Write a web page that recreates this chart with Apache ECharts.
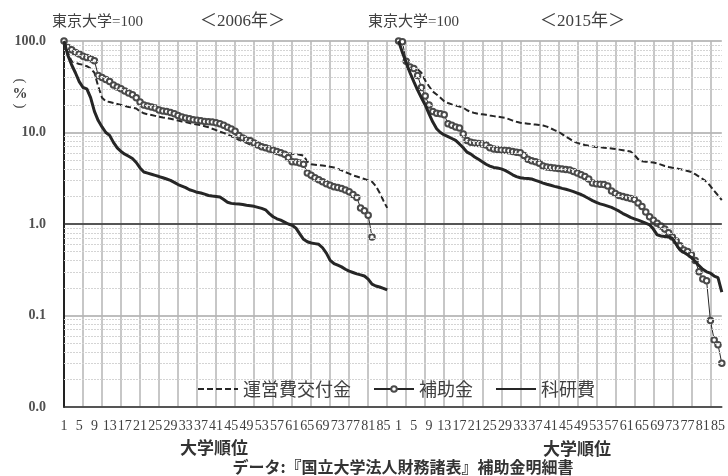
<!DOCTYPE html>
<html><head><meta charset="utf-8">
<script src="https://cdn.jsdelivr.net/npm/echarts@6/dist/echarts.min.js"></script>
<style>html,body{margin:0;padding:0;background:#fff}#c{width:728px;height:476px}</style>
</head><body><div id="c"></div>
<script>
// ---- categories (university rank), two panels on one category axis ----
const ranks2006 = Array.from({length: 88}, (_, i) => String(i + 1));
const ranks2015 = Array.from({length: 86}, (_, i) => String(i + 1));
const categories = ranks2006.concat(ranks2015);

// ---- values (東京大学 = 100) ----
const kofu2006 = [100,75,60,58,56,55,53,50,45,32,24,22,21.5,21,20.5,20,19.5,19,18.7,18.3,17,16.2,15.8,15.5,15.2,14.9,14.6,14.4,14.1,13.8,13.5,13.2,13.0,12.7,12.4,12.2,12.0,11.7,11.4,11.0,10.6,10.2,9.9,9.5,9.1,8.7,8.3,8.0,7.7,7.4,7.2,7.0,6.85,6.7,6.5,6.35,6.2,6.1,6.0,5.95,5.85,5.8,5.72,5.6,4.8,4.5,4.45,4.4,4.35,4.3,4.22,4.15,4.0,3.85,3.7,3.55,3.4,3.3,3.2,3.1,3.0,2.9,2.6,2.2,1.8,1.5];
const hojo2006 = [100,85,80,75,72,68,66,64,61,42,40,38,36,33,31.5,30,28.5,27,25.8,24,21.5,20,19.5,19,18.5,17.6,17.2,17,16.5,16,15.3,14.8,14.4,14.1,13.8,13.6,13.4,13.2,13.1,13.0,12.8,12.5,12.0,11.4,10.9,10.3,9.3,8.7,8.4,8.1,7.7,7.3,7.0,6.8,6.6,6.4,6.2,6.0,5.8,5.3,4.8,4.75,4.65,4.5,3.6,3.4,3.2,3.05,2.9,2.75,2.65,2.55,2.5,2.45,2.35,2.25,2.1,1.95,1.5,1.4,1.25,0.72];
const kaken2006 = [100,70,55,45,36,31,30,24,17,13.5,11.5,10,9.3,7.8,6.8,6.2,5.8,5.5,5.2,4.7,4.1,3.7,3.6,3.5,3.4,3.3,3.2,3.1,3.0,2.85,2.7,2.6,2.5,2.37,2.3,2.22,2.18,2.12,2.05,2.02,2.0,1.97,1.85,1.73,1.68,1.66,1.65,1.63,1.6,1.58,1.56,1.52,1.48,1.43,1.3,1.2,1.14,1.1,1.05,1.0,0.97,0.9,0.78,0.68,0.64,0.62,0.61,0.6,0.55,0.48,0.4,0.37,0.355,0.34,0.32,0.305,0.295,0.285,0.278,0.27,0.25,0.22,0.21,0.205,0.198,0.19];

const kofu2015 = [100,75,60,55,52,49,45,37,32,28,26,24,22,21,20.3,19.7,19.2,18.7,17.5,16.8,16.3,16.0,15.8,15.6,15.3,15.1,14.9,14.7,14.5,14.0,13.5,13.1,12.8,12.6,12.5,12.3,12.2,12.1,11.9,11.6,11.1,10.6,10.2,9.6,9.0,8.5,8.0,7.7,7.5,7.3,7.15,7.05,6.95,6.9,6.8,6.75,6.7,6.6,6.5,6.4,6.3,6.2,5.7,5.1,4.85,4.8,4.75,4.7,4.6,4.45,4.3,4.2,4.12,4.06,3.98,3.9,3.8,3.7,3.5,3.3,3.1,2.9,2.6,2.3,2.05,1.83];
const hojo2015 = [100,98,60,52,50,42,31,25,20,17,16.2,16,15.6,12.5,12,11.5,11.2,9.6,8.2,7.8,7.7,7.6,7.5,7.3,6.8,6.6,6.5,6.45,6.4,6.3,6.2,6.1,6.0,5.6,5.1,4.9,4.8,4.6,4.3,4.2,4.15,4.1,4.05,4.0,3.95,3.9,3.75,3.6,3.45,3.3,3.1,2.8,2.75,2.72,2.7,2.6,2.3,2.15,2.05,2.0,1.95,1.9,1.85,1.7,1.55,1.35,1.2,1.1,1.02,0.95,0.88,0.8,0.72,0.65,0.58,0.52,0.5,0.46,0.4,0.3,0.25,0.24,0.088,0.054,0.048,0.030];
const kaken2015 = [100,75,58,45,36,29,24,20,16,13,11,10,9.4,9.0,8.6,8.2,7.5,6.8,6.1,5.8,5.4,5.1,4.8,4.5,4.3,4.15,4.1,4.0,3.85,3.65,3.45,3.3,3.2,3.17,3.15,3.1,3.0,2.9,2.8,2.72,2.65,2.58,2.52,2.45,2.4,2.33,2.26,2.18,2.1,2.0,1.9,1.8,1.72,1.66,1.62,1.57,1.52,1.45,1.38,1.3,1.24,1.18,1.14,1.1,1.06,1.02,0.98,0.88,0.76,0.74,0.73,0.72,0.7,0.6,0.52,0.49,0.46,0.43,0.39,0.35,0.32,0.3,0.29,0.27,0.26,0.18];

const yTicks = [0.01, 0.1, 1, 10, 100];
const minorGrid = [0.02,0.03,0.04,0.05,0.06,0.07,0.08,0.09,0.2,0.3,0.4,0.5,0.6,0.7,0.8,0.9,2,3,4,5,6,7,8,9,20,30,40,50,60,70,80,90];
const seriesNames = ['運営費交付金', '補助金', '科研費'];

// place each panel's values on the shared category axis
const N = categories.length;
function place(arr, offset) {
  const out = new Array(N).fill(null);
  arr.forEach((v, i) => { out[offset + i] = v; });
  return out;
}
const OFF2015 = ranks2006.length;

const serif = "'Liberation Serif', 'Noto Sans CJK JP', serif";
const sans = "'Noto Sans CJK JP', sans-serif";
const ink = '#262626';

const kofuStyle = { type: 'line', name: seriesNames[0], symbol: 'none', z: 3,
  lineStyle: { color: ink, width: 2, type: [6, 3] }, itemStyle: { color: ink } };
const hojoStyle = { type: 'line', name: seriesNames[1], symbol: 'emptyCircle', symbolSize: 5.5, showAllSymbol: true, z: 4,
  lineStyle: { color: ink, width: 1 }, itemStyle: { color: '#4a4a4a', borderColor: '#4a4a4a', borderWidth: 1.3 } };
const kakenStyle = { type: 'line', name: seriesNames[2], symbol: 'none', z: 5,
  lineStyle: { color: ink, width: 3 }, itemStyle: { color: ink } };

const chart = echarts.init(document.getElementById('c'), null, { renderer: 'canvas' });
chart.setOption({
  animation: false,
  backgroundColor: '#fff',
  grid: { left: 64, right: 2.5, top: 41, bottom: 69, containLabel: false },
  xAxis: {
    type: 'category', data: categories, boundaryGap: false,
    axisLine: { show: true, lineStyle: { color: '#333', width: 1.5 } },
    axisTick: { show: false },
    axisLabel: { interval: 3, margin: 12, fontFamily: serif, fontSize: 14, color: '#404040' },
    splitLine: { show: true, interval: (i) => i % 5 === 0, lineStyle: { color: '#b4b4b4', width: 1.5 } }
  },
  yAxis: {
    type: 'log', logBase: 10, min: yTicks[0], max: yTicks[yTicks.length - 1],
    axisLine: { show: true, lineStyle: { color: '#222', width: 2 } },
    axisTick: { show: false },
    axisLabel: { margin: 18, fontFamily: serif, fontSize: 14, fontWeight: 'bold', color: '#505050',
      formatter: (v) => Number(v).toFixed(1) },
    splitLine: { show: true, lineStyle: { color: '#a8a8a8', width: 1.5 } }
  },
  legend: {
    data: [
      { name: seriesNames[0], itemStyle: { color: 'rgba(0,0,0,0)', borderColor: 'rgba(0,0,0,0)', opacity: 0 } },
      { name: seriesNames[1] },
      { name: seriesNames[2], itemStyle: { color: 'rgba(0,0,0,0)', borderColor: 'rgba(0,0,0,0)', opacity: 0 } }
    ],
    left: 192, top: 375, itemWidth: 40, itemHeight: 7, itemGap: 22,
    textStyle: { fontFamily: sans, fontSize: 18, color: '#404040' }
  },
  series: [
    { type: 'line', name: 'grid', data: [], silent: true, z: 1,
      markLine: { silent: true, symbol: 'none', label: { show: false }, animation: false,
        lineStyle: { color: '#d4d4d4', width: 1, type: [2, 1] },
        data: minorGrid.map(v => ({ yAxis: v })) } },
    { type: 'line', name: 'axis1', data: [], silent: true, z: 2,
      markLine: { silent: true, symbol: 'none', label: { show: false }, animation: false,
        lineStyle: { color: '#333', width: 1.5, type: 'solid' },
        data: [{ yAxis: 1 }] } },
    Object.assign({}, kofuStyle, { data: place(kofu2006, 0) }),
    Object.assign({}, hojoStyle, { data: place(hojo2006, 0) }),
    Object.assign({}, kakenStyle, { data: place(kaken2006, 0) }),
    Object.assign({}, kofuStyle, { data: place(kofu2015, OFF2015) }),
    Object.assign({}, hojoStyle, { data: place(hojo2015, OFF2015) }),
    Object.assign({}, kakenStyle, { data: place(kaken2015, OFF2015) })
  ],
  graphic: [
    { type: 'text', left: 52, top: 15, style: { text: '東京大学=100', font: '15px ' + serif, fill: '#404040' } },
    { type: 'text', left: 200, top: 13, style: { text: '＜2006年＞', font: '17px ' + serif, fill: '#404040' } },
    { type: 'text', left: 368, top: 15, style: { text: '東京大学=100', font: '15px ' + serif, fill: '#404040' } },
    { type: 'text', left: 540, top: 13, style: { text: '＜2015年＞', font: '17px ' + serif, fill: '#404040' } },
    { type: 'text', x: 20, y: 81, rotation: -Math.PI / 2, style: { text: '(', font: '15px ' + serif, fill: '#404040', align: 'center', verticalAlign: 'middle' } },
    { type: 'text', x: 20, y: 94, style: { text: '%', font: 'bold 15px ' + serif, fill: '#404040', align: 'center', verticalAlign: 'middle' } },
    { type: 'text', x: 20, y: 106, rotation: -Math.PI / 2, style: { text: ')', font: '15px ' + serif, fill: '#404040', align: 'center', verticalAlign: 'middle' } },
    { type: 'text', x: 214, y: 448, style: { text: '大学順位', font: 'bold 17px ' + sans, fill: '#333', align: 'center', verticalAlign: 'middle' } },
    { type: 'text', x: 577, y: 449, style: { text: '大学順位', font: 'bold 17px ' + sans, fill: '#333', align: 'center', verticalAlign: 'middle' } },
    { type: 'text', x: 403, y: 467, style: { text: 'データ:『国立大学法人財務諸表』補助金明細書', font: 'bold 16px ' + sans, fill: '#333', align: 'center', verticalAlign: 'middle' } }
  ]
});
</script></body></html>
